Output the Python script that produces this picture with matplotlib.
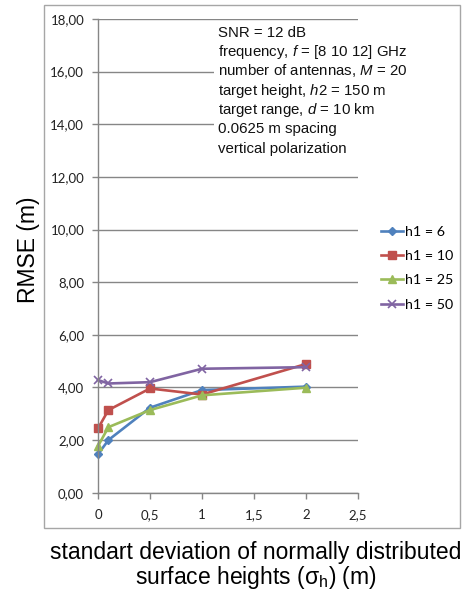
import matplotlib
matplotlib.use("Agg")
import matplotlib.pyplot as plt
from matplotlib.patches import Rectangle

plt.rcParams["mathtext.fontset"] = "custom"
plt.rcParams["mathtext.rm"] = "Liberation Sans"
plt.rcParams["mathtext.it"] = "Liberation Sans:italic"

# surface height standard deviation (m)
sigma_h = [0, 0.1, 0.5, 1, 2]

# RMSE (m) for each receiver height h1
rmse_h1_6 = [1.46, 2.00, 3.23, 3.90, 4.03]
rmse_h1_10 = [2.44, 3.14, 3.96, 3.73, 4.89]
rmse_h1_25 = [1.77, 2.49, 3.14, 3.70, 3.99]
rmse_h1_50 = [4.28, 4.15, 4.20, 4.71, 4.77]

series_labels = ["h1 = 6", "h1 = 10", "h1 = 25", "h1 = 50"]
y_ticks = [0, 2, 4, 6, 8, 10, 12, 14, 16, 18]
y_tick_labels = ["0,00", "2,00", "4,00", "6,00", "8,00", "10,00",
                 "12,00", "14,00", "16,00", "18,00"]
x_ticks = [0, 0.5, 1, 1.5, 2, 2.5]
x_tick_labels = ["0", "0,5", "1", "1,5", "2", "2,5"]

info_lines = [
    "SNR = 12 dB",
    "frequency, $f$ = [8 10 12] GHz",
    "number of antennas, $M$ = 20",
    r"target height, $\mathit{h2}$ = 150 m",
    "target range, $d$ = 10 km",
    "0.0625 m spacing",
    "vertical polarization",
]

W, H = 469, 591
fig = plt.figure(figsize=(W / 100, H / 100), dpi=100)


def fx(px):
    return px / W


def fy(py):
    return 1 - py / H


# outer chart frame
fig.patches.append(Rectangle((fx(44), fy(528)), (460 - 44) / W, (528 - 5) / H,
                             transform=fig.transFigure, fill=False,
                             edgecolor="#a6a6a6", linewidth=1.0))

ax = fig.add_axes([fx(98), fy(492.7), (358 - 98) / W, (492.7 - 19) / H])

styles = [
    dict(color="#4F81BD", marker="D", markersize=4.5),
    dict(color="#C0504D", marker="s", markersize=6),
    dict(color="#9BBB59", marker="^", markersize=6),
    dict(color="#8064A2", marker="x", markersize=6, markeredgewidth=1.2),
]
for vals, lab, st in zip([rmse_h1_6, rmse_h1_10, rmse_h1_25, rmse_h1_50],
                         series_labels, styles):
    ax.plot(sigma_h, vals, label=lab, linewidth=1.9, clip_on=False, **st)

ax.set_xlim(0, 2.5)
ax.set_ylim(0, 18)
ax.set_yticks(y_ticks)
ax.set_yticklabels(y_tick_labels, fontfamily="Lato", fontsize=9.5)
ax.set_xticks(x_ticks)
ax.set_xticklabels(x_tick_labels, fontfamily="Lato", fontsize=9.5)
ax.tick_params(axis="both", direction="out", color="#868686", length=4,
               width=1, labelcolor="#222222")
ax.tick_params(axis="y", pad=6)
ax.tick_params(axis="x", pad=8)
ax.grid(axis="y", color="#868686", linewidth=1)
ax.set_axisbelow(True)
for s in ["top", "right"]:
    ax.spines[s].set_visible(False)
for s in ["left", "bottom"]:
    ax.spines[s].set_color("#868686")
    ax.spines[s].set_linewidth(1)

leg = ax.legend(loc="upper left", bbox_to_anchor=(fx(381), fy(226)),
                bbox_transform=fig.transFigure, frameon=False,
                prop=dict(family="Lato", size=10.3), handlelength=1.55,
                handletextpad=0.1, labelspacing=0.85, borderpad=0,
                borderaxespad=0)

# white text box holding the simulation parameters
ax.add_patch(Rectangle((fx(214), fy(170)), (440 - 214) / W, (170 - 22) / H,
                       transform=fig.transFigure, facecolor="white",
                       edgecolor="none", zorder=3, clip_on=False))
for i, line in enumerate(info_lines):
    ax.text(fx(217.5), fy(36.7 + 19.3 * i), line, ha="left", va="baseline",
            transform=fig.transFigure, fontfamily="Liberation Sans",
            fontsize=10.8, color="#111111", zorder=4, clip_on=False)

fig.text(fx(28), fy(250), "RMSE (m)", rotation=90, ha="center", va="center",
         fontfamily="Liberation Sans", fontsize=16.5)
fig.text(fx(256), fy(566),
         "standart deviation of normally distributed\nsurface heights (σ$_\\mathrm{h}$) (m)",
         ha="center", va="center", multialignment="center",
         fontfamily="Liberation Sans", fontsize=16.5, linespacing=1.0)

fig.savefig("out.png", dpi=100)
